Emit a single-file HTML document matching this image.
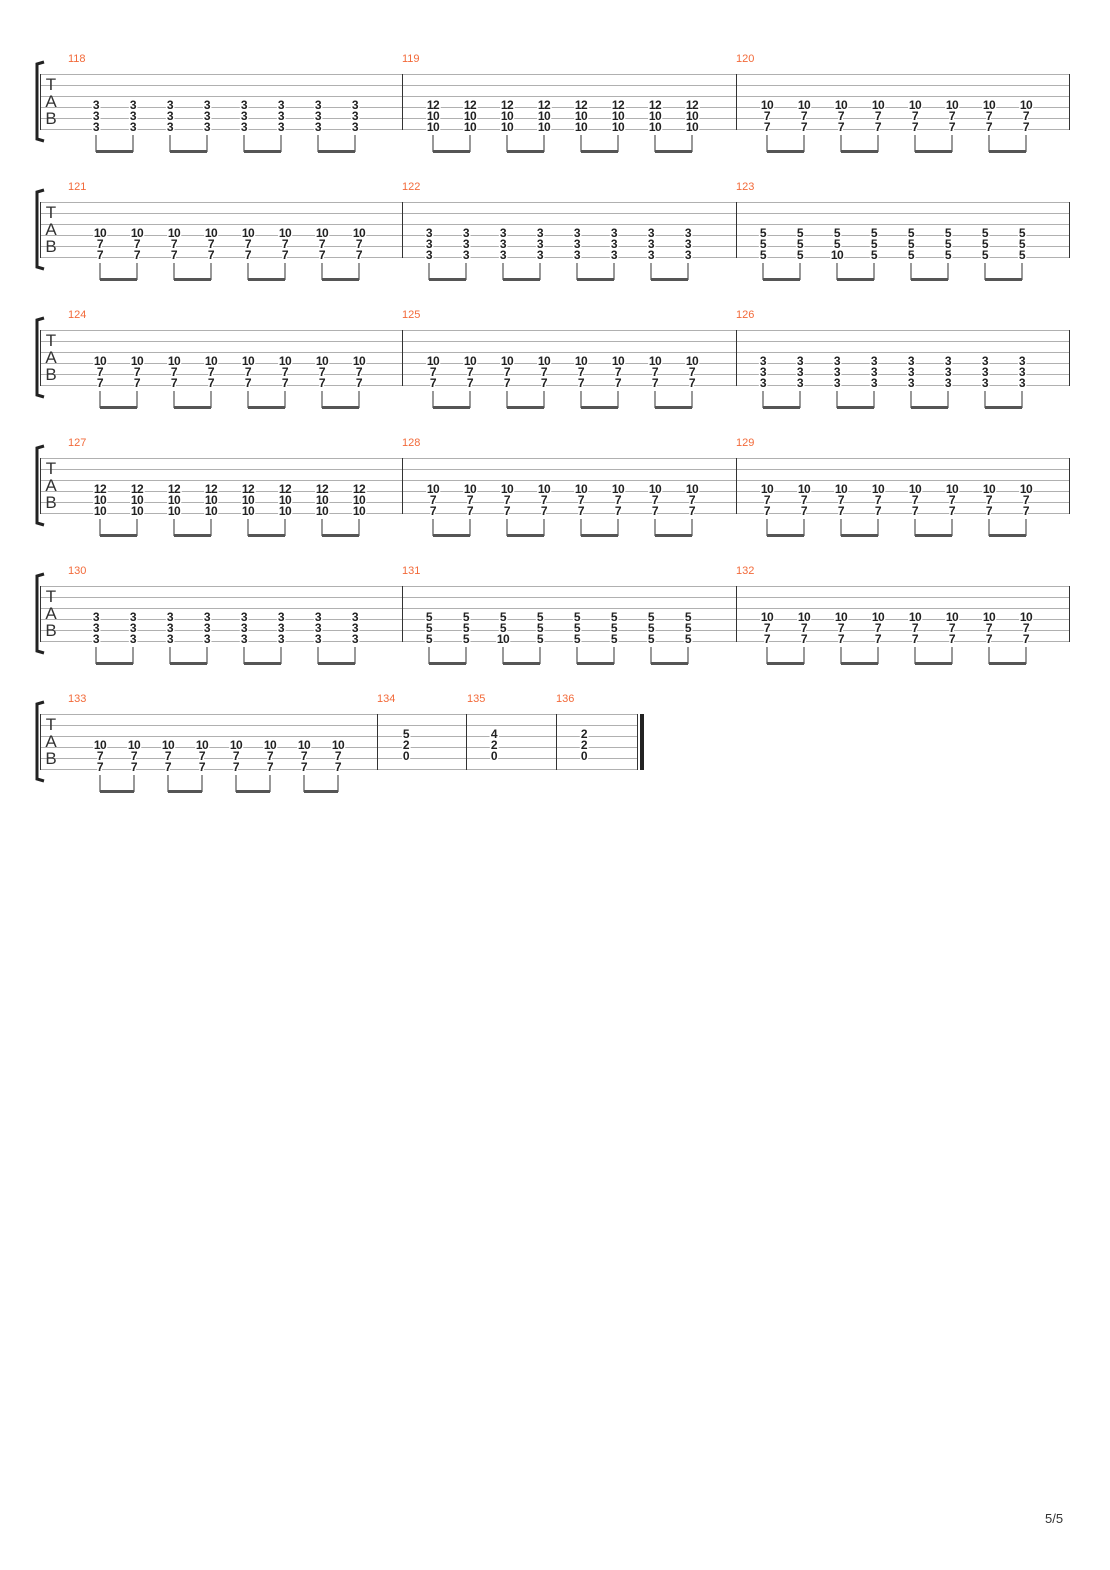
<!DOCTYPE html>
<html><head><meta charset="utf-8"><style>
html,body{margin:0;padding:0;background:#fff}
svg{display:block}
.n{font-family:"Liberation Sans",sans-serif;font-weight:bold;font-size:12px;text-anchor:middle;paint-order:stroke;stroke:#fff;stroke-width:3px;fill:#222;letter-spacing:-0.5px}
.m{font-family:"Liberation Sans",sans-serif;font-size:11px;fill:#f26a3a}
.tab{font-family:"Liberation Sans",sans-serif;font-size:17px;fill:#333;text-anchor:middle}
.sl{stroke:#b0b0b0;stroke-width:1}
.bl{stroke:#333;stroke-width:1}
.st{stroke:#555;stroke-width:1.2}
.bm{stroke:#555;stroke-width:3}
</style></head><body>
<svg width="1110" height="1570" xmlns="http://www.w3.org/2000/svg">
<defs>
<g id="staff">
<line class="sl" x1="40" y1="74.5" x2="1069" y2="74.5"/><line class="sl" x1="40" y1="85.5" x2="1069" y2="85.5"/><line class="sl" x1="40" y1="96.5" x2="1069" y2="96.5"/><line class="sl" x1="40" y1="107.5" x2="1069" y2="107.5"/><line class="sl" x1="40" y1="118.5" x2="1069" y2="118.5"/><line class="sl" x1="40" y1="129.5" x2="1069" y2="129.5"/>
<path d="M44 62 L37 64 L37 139 L44 141" fill="none" stroke="#222" stroke-width="3"/>
<line class="bl" x1="40.5" y1="74" x2="40.5" y2="130"/>
</g>
</defs>

<!-- System 1 -->
<g>
<use href="#staff"/>
<line class="bl" x1="402.5" y1="74" x2="402.5" y2="130"/><line class="bl" x1="736.5" y1="74" x2="736.5" y2="130"/><line class="bl" x1="1069.5" y1="74" x2="1069.5" y2="130"/>
<text class="tab" x="51" y="90">T</text><text class="tab" x="51" y="107">A</text><text class="tab" x="51" y="124">B</text>
<text class="m" x="68" y="62">118</text><text class="m" x="402" y="62">119</text><text class="m" x="736" y="62">120</text>
<g class="n">
<text x="96" y="109">3<tspan x="96" dy="11">3</tspan><tspan x="96" dy="11">3</tspan></text><text x="133" y="109">3<tspan x="133" dy="11">3</tspan><tspan x="133" dy="11">3</tspan></text><text x="170" y="109">3<tspan x="170" dy="11">3</tspan><tspan x="170" dy="11">3</tspan></text><text x="207" y="109">3<tspan x="207" dy="11">3</tspan><tspan x="207" dy="11">3</tspan></text><text x="244" y="109">3<tspan x="244" dy="11">3</tspan><tspan x="244" dy="11">3</tspan></text><text x="281" y="109">3<tspan x="281" dy="11">3</tspan><tspan x="281" dy="11">3</tspan></text><text x="318" y="109">3<tspan x="318" dy="11">3</tspan><tspan x="318" dy="11">3</tspan></text><text x="355" y="109">3<tspan x="355" dy="11">3</tspan><tspan x="355" dy="11">3</tspan></text>
<text x="433" y="109">12<tspan x="433" dy="11">10</tspan><tspan x="433" dy="11">10</tspan></text><text x="470" y="109">12<tspan x="470" dy="11">10</tspan><tspan x="470" dy="11">10</tspan></text><text x="507" y="109">12<tspan x="507" dy="11">10</tspan><tspan x="507" dy="11">10</tspan></text><text x="544" y="109">12<tspan x="544" dy="11">10</tspan><tspan x="544" dy="11">10</tspan></text><text x="581" y="109">12<tspan x="581" dy="11">10</tspan><tspan x="581" dy="11">10</tspan></text><text x="618" y="109">12<tspan x="618" dy="11">10</tspan><tspan x="618" dy="11">10</tspan></text><text x="655" y="109">12<tspan x="655" dy="11">10</tspan><tspan x="655" dy="11">10</tspan></text><text x="692" y="109">12<tspan x="692" dy="11">10</tspan><tspan x="692" dy="11">10</tspan></text>
<text x="767" y="109">10<tspan x="767" dy="11">7</tspan><tspan x="767" dy="11">7</tspan></text><text x="804" y="109">10<tspan x="804" dy="11">7</tspan><tspan x="804" dy="11">7</tspan></text><text x="841" y="109">10<tspan x="841" dy="11">7</tspan><tspan x="841" dy="11">7</tspan></text><text x="878" y="109">10<tspan x="878" dy="11">7</tspan><tspan x="878" dy="11">7</tspan></text><text x="915" y="109">10<tspan x="915" dy="11">7</tspan><tspan x="915" dy="11">7</tspan></text><text x="952" y="109">10<tspan x="952" dy="11">7</tspan><tspan x="952" dy="11">7</tspan></text><text x="989" y="109">10<tspan x="989" dy="11">7</tspan><tspan x="989" dy="11">7</tspan></text><text x="1026" y="109">10<tspan x="1026" dy="11">7</tspan><tspan x="1026" dy="11">7</tspan></text>
</g>
<path class="st" d="M96 135V152M133 135V152M170 135V152M207 135V152M244 135V152M281 135V152M318 135V152M355 135V152M433 135V152M470 135V152M507 135V152M544 135V152M581 135V152M618 135V152M655 135V152M692 135V152M767 135V152M804 135V152M841 135V152M878 135V152M915 135V152M952 135V152M989 135V152M1026 135V152"/>
<path class="bm" d="M96 151.5H133M170 151.5H207M244 151.5H281M318 151.5H355M433 151.5H470M507 151.5H544M581 151.5H618M655 151.5H692M767 151.5H804M841 151.5H878M915 151.5H952M989 151.5H1026"/>
</g>

<!-- System 2 -->
<g transform="translate(0,128)">
<use href="#staff"/>
<line class="bl" x1="402.5" y1="74" x2="402.5" y2="130"/><line class="bl" x1="736.5" y1="74" x2="736.5" y2="130"/><line class="bl" x1="1069.5" y1="74" x2="1069.5" y2="130"/>
<text class="tab" x="51" y="90">T</text><text class="tab" x="51" y="107">A</text><text class="tab" x="51" y="124">B</text>
<text class="m" x="68" y="62">121</text><text class="m" x="402" y="62">122</text><text class="m" x="736" y="62">123</text>
<g class="n">
<text x="100" y="109">10<tspan x="100" dy="11">7</tspan><tspan x="100" dy="11">7</tspan></text><text x="137" y="109">10<tspan x="137" dy="11">7</tspan><tspan x="137" dy="11">7</tspan></text><text x="174" y="109">10<tspan x="174" dy="11">7</tspan><tspan x="174" dy="11">7</tspan></text><text x="211" y="109">10<tspan x="211" dy="11">7</tspan><tspan x="211" dy="11">7</tspan></text><text x="248" y="109">10<tspan x="248" dy="11">7</tspan><tspan x="248" dy="11">7</tspan></text><text x="285" y="109">10<tspan x="285" dy="11">7</tspan><tspan x="285" dy="11">7</tspan></text><text x="322" y="109">10<tspan x="322" dy="11">7</tspan><tspan x="322" dy="11">7</tspan></text><text x="359" y="109">10<tspan x="359" dy="11">7</tspan><tspan x="359" dy="11">7</tspan></text>
<text x="429" y="109">3<tspan x="429" dy="11">3</tspan><tspan x="429" dy="11">3</tspan></text><text x="466" y="109">3<tspan x="466" dy="11">3</tspan><tspan x="466" dy="11">3</tspan></text><text x="503" y="109">3<tspan x="503" dy="11">3</tspan><tspan x="503" dy="11">3</tspan></text><text x="540" y="109">3<tspan x="540" dy="11">3</tspan><tspan x="540" dy="11">3</tspan></text><text x="577" y="109">3<tspan x="577" dy="11">3</tspan><tspan x="577" dy="11">3</tspan></text><text x="614" y="109">3<tspan x="614" dy="11">3</tspan><tspan x="614" dy="11">3</tspan></text><text x="651" y="109">3<tspan x="651" dy="11">3</tspan><tspan x="651" dy="11">3</tspan></text><text x="688" y="109">3<tspan x="688" dy="11">3</tspan><tspan x="688" dy="11">3</tspan></text>
<text x="763" y="109">5<tspan x="763" dy="11">5</tspan><tspan x="763" dy="11">5</tspan></text><text x="800" y="109">5<tspan x="800" dy="11">5</tspan><tspan x="800" dy="11">5</tspan></text><text x="837" y="109">5<tspan x="837" dy="11">5</tspan><tspan x="837" dy="11">10</tspan></text><text x="874" y="109">5<tspan x="874" dy="11">5</tspan><tspan x="874" dy="11">5</tspan></text><text x="911" y="109">5<tspan x="911" dy="11">5</tspan><tspan x="911" dy="11">5</tspan></text><text x="948" y="109">5<tspan x="948" dy="11">5</tspan><tspan x="948" dy="11">5</tspan></text><text x="985" y="109">5<tspan x="985" dy="11">5</tspan><tspan x="985" dy="11">5</tspan></text><text x="1022" y="109">5<tspan x="1022" dy="11">5</tspan><tspan x="1022" dy="11">5</tspan></text>
</g>
<path class="st" d="M100 135V152M137 135V152M174 135V152M211 135V152M248 135V152M285 135V152M322 135V152M359 135V152M429 135V152M466 135V152M503 135V152M540 135V152M577 135V152M614 135V152M651 135V152M688 135V152M763 135V152M800 135V152M837 135V152M874 135V152M911 135V152M948 135V152M985 135V152M1022 135V152"/>
<path class="bm" d="M100 151.5H137M174 151.5H211M248 151.5H285M322 151.5H359M429 151.5H466M503 151.5H540M577 151.5H614M651 151.5H688M763 151.5H800M837 151.5H874M911 151.5H948M985 151.5H1022"/>
</g>

<!-- System 3 -->
<g transform="translate(0,256)">
<use href="#staff"/>
<line class="bl" x1="402.5" y1="74" x2="402.5" y2="130"/><line class="bl" x1="736.5" y1="74" x2="736.5" y2="130"/><line class="bl" x1="1069.5" y1="74" x2="1069.5" y2="130"/>
<text class="tab" x="51" y="90">T</text><text class="tab" x="51" y="107">A</text><text class="tab" x="51" y="124">B</text>
<text class="m" x="68" y="62">124</text><text class="m" x="402" y="62">125</text><text class="m" x="736" y="62">126</text>
<g class="n">
<text x="100" y="109">10<tspan x="100" dy="11">7</tspan><tspan x="100" dy="11">7</tspan></text><text x="137" y="109">10<tspan x="137" dy="11">7</tspan><tspan x="137" dy="11">7</tspan></text><text x="174" y="109">10<tspan x="174" dy="11">7</tspan><tspan x="174" dy="11">7</tspan></text><text x="211" y="109">10<tspan x="211" dy="11">7</tspan><tspan x="211" dy="11">7</tspan></text><text x="248" y="109">10<tspan x="248" dy="11">7</tspan><tspan x="248" dy="11">7</tspan></text><text x="285" y="109">10<tspan x="285" dy="11">7</tspan><tspan x="285" dy="11">7</tspan></text><text x="322" y="109">10<tspan x="322" dy="11">7</tspan><tspan x="322" dy="11">7</tspan></text><text x="359" y="109">10<tspan x="359" dy="11">7</tspan><tspan x="359" dy="11">7</tspan></text>
<text x="433" y="109">10<tspan x="433" dy="11">7</tspan><tspan x="433" dy="11">7</tspan></text><text x="470" y="109">10<tspan x="470" dy="11">7</tspan><tspan x="470" dy="11">7</tspan></text><text x="507" y="109">10<tspan x="507" dy="11">7</tspan><tspan x="507" dy="11">7</tspan></text><text x="544" y="109">10<tspan x="544" dy="11">7</tspan><tspan x="544" dy="11">7</tspan></text><text x="581" y="109">10<tspan x="581" dy="11">7</tspan><tspan x="581" dy="11">7</tspan></text><text x="618" y="109">10<tspan x="618" dy="11">7</tspan><tspan x="618" dy="11">7</tspan></text><text x="655" y="109">10<tspan x="655" dy="11">7</tspan><tspan x="655" dy="11">7</tspan></text><text x="692" y="109">10<tspan x="692" dy="11">7</tspan><tspan x="692" dy="11">7</tspan></text>
<text x="763" y="109">3<tspan x="763" dy="11">3</tspan><tspan x="763" dy="11">3</tspan></text><text x="800" y="109">3<tspan x="800" dy="11">3</tspan><tspan x="800" dy="11">3</tspan></text><text x="837" y="109">3<tspan x="837" dy="11">3</tspan><tspan x="837" dy="11">3</tspan></text><text x="874" y="109">3<tspan x="874" dy="11">3</tspan><tspan x="874" dy="11">3</tspan></text><text x="911" y="109">3<tspan x="911" dy="11">3</tspan><tspan x="911" dy="11">3</tspan></text><text x="948" y="109">3<tspan x="948" dy="11">3</tspan><tspan x="948" dy="11">3</tspan></text><text x="985" y="109">3<tspan x="985" dy="11">3</tspan><tspan x="985" dy="11">3</tspan></text><text x="1022" y="109">3<tspan x="1022" dy="11">3</tspan><tspan x="1022" dy="11">3</tspan></text>
</g>
<path class="st" d="M100 135V152M137 135V152M174 135V152M211 135V152M248 135V152M285 135V152M322 135V152M359 135V152M433 135V152M470 135V152M507 135V152M544 135V152M581 135V152M618 135V152M655 135V152M692 135V152M763 135V152M800 135V152M837 135V152M874 135V152M911 135V152M948 135V152M985 135V152M1022 135V152"/>
<path class="bm" d="M100 151.5H137M174 151.5H211M248 151.5H285M322 151.5H359M433 151.5H470M507 151.5H544M581 151.5H618M655 151.5H692M763 151.5H800M837 151.5H874M911 151.5H948M985 151.5H1022"/>
</g>

<!-- System 4 -->
<g transform="translate(0,384)">
<use href="#staff"/>
<line class="bl" x1="402.5" y1="74" x2="402.5" y2="130"/><line class="bl" x1="736.5" y1="74" x2="736.5" y2="130"/><line class="bl" x1="1069.5" y1="74" x2="1069.5" y2="130"/>
<text class="tab" x="51" y="90">T</text><text class="tab" x="51" y="107">A</text><text class="tab" x="51" y="124">B</text>
<text class="m" x="68" y="62">127</text><text class="m" x="402" y="62">128</text><text class="m" x="736" y="62">129</text>
<g class="n">
<text x="100" y="109">12<tspan x="100" dy="11">10</tspan><tspan x="100" dy="11">10</tspan></text><text x="137" y="109">12<tspan x="137" dy="11">10</tspan><tspan x="137" dy="11">10</tspan></text><text x="174" y="109">12<tspan x="174" dy="11">10</tspan><tspan x="174" dy="11">10</tspan></text><text x="211" y="109">12<tspan x="211" dy="11">10</tspan><tspan x="211" dy="11">10</tspan></text><text x="248" y="109">12<tspan x="248" dy="11">10</tspan><tspan x="248" dy="11">10</tspan></text><text x="285" y="109">12<tspan x="285" dy="11">10</tspan><tspan x="285" dy="11">10</tspan></text><text x="322" y="109">12<tspan x="322" dy="11">10</tspan><tspan x="322" dy="11">10</tspan></text><text x="359" y="109">12<tspan x="359" dy="11">10</tspan><tspan x="359" dy="11">10</tspan></text>
<text x="433" y="109">10<tspan x="433" dy="11">7</tspan><tspan x="433" dy="11">7</tspan></text><text x="470" y="109">10<tspan x="470" dy="11">7</tspan><tspan x="470" dy="11">7</tspan></text><text x="507" y="109">10<tspan x="507" dy="11">7</tspan><tspan x="507" dy="11">7</tspan></text><text x="544" y="109">10<tspan x="544" dy="11">7</tspan><tspan x="544" dy="11">7</tspan></text><text x="581" y="109">10<tspan x="581" dy="11">7</tspan><tspan x="581" dy="11">7</tspan></text><text x="618" y="109">10<tspan x="618" dy="11">7</tspan><tspan x="618" dy="11">7</tspan></text><text x="655" y="109">10<tspan x="655" dy="11">7</tspan><tspan x="655" dy="11">7</tspan></text><text x="692" y="109">10<tspan x="692" dy="11">7</tspan><tspan x="692" dy="11">7</tspan></text>
<text x="767" y="109">10<tspan x="767" dy="11">7</tspan><tspan x="767" dy="11">7</tspan></text><text x="804" y="109">10<tspan x="804" dy="11">7</tspan><tspan x="804" dy="11">7</tspan></text><text x="841" y="109">10<tspan x="841" dy="11">7</tspan><tspan x="841" dy="11">7</tspan></text><text x="878" y="109">10<tspan x="878" dy="11">7</tspan><tspan x="878" dy="11">7</tspan></text><text x="915" y="109">10<tspan x="915" dy="11">7</tspan><tspan x="915" dy="11">7</tspan></text><text x="952" y="109">10<tspan x="952" dy="11">7</tspan><tspan x="952" dy="11">7</tspan></text><text x="989" y="109">10<tspan x="989" dy="11">7</tspan><tspan x="989" dy="11">7</tspan></text><text x="1026" y="109">10<tspan x="1026" dy="11">7</tspan><tspan x="1026" dy="11">7</tspan></text>
</g>
<path class="st" d="M100 135V152M137 135V152M174 135V152M211 135V152M248 135V152M285 135V152M322 135V152M359 135V152M433 135V152M470 135V152M507 135V152M544 135V152M581 135V152M618 135V152M655 135V152M692 135V152M767 135V152M804 135V152M841 135V152M878 135V152M915 135V152M952 135V152M989 135V152M1026 135V152"/>
<path class="bm" d="M100 151.5H137M174 151.5H211M248 151.5H285M322 151.5H359M433 151.5H470M507 151.5H544M581 151.5H618M655 151.5H692M767 151.5H804M841 151.5H878M915 151.5H952M989 151.5H1026"/>
</g>

<!-- System 5 -->
<g transform="translate(0,512)">
<use href="#staff"/>
<line class="bl" x1="402.5" y1="74" x2="402.5" y2="130"/><line class="bl" x1="736.5" y1="74" x2="736.5" y2="130"/><line class="bl" x1="1069.5" y1="74" x2="1069.5" y2="130"/>
<text class="tab" x="51" y="90">T</text><text class="tab" x="51" y="107">A</text><text class="tab" x="51" y="124">B</text>
<text class="m" x="68" y="62">130</text><text class="m" x="402" y="62">131</text><text class="m" x="736" y="62">132</text>
<g class="n">
<text x="96" y="109">3<tspan x="96" dy="11">3</tspan><tspan x="96" dy="11">3</tspan></text><text x="133" y="109">3<tspan x="133" dy="11">3</tspan><tspan x="133" dy="11">3</tspan></text><text x="170" y="109">3<tspan x="170" dy="11">3</tspan><tspan x="170" dy="11">3</tspan></text><text x="207" y="109">3<tspan x="207" dy="11">3</tspan><tspan x="207" dy="11">3</tspan></text><text x="244" y="109">3<tspan x="244" dy="11">3</tspan><tspan x="244" dy="11">3</tspan></text><text x="281" y="109">3<tspan x="281" dy="11">3</tspan><tspan x="281" dy="11">3</tspan></text><text x="318" y="109">3<tspan x="318" dy="11">3</tspan><tspan x="318" dy="11">3</tspan></text><text x="355" y="109">3<tspan x="355" dy="11">3</tspan><tspan x="355" dy="11">3</tspan></text>
<text x="429" y="109">5<tspan x="429" dy="11">5</tspan><tspan x="429" dy="11">5</tspan></text><text x="466" y="109">5<tspan x="466" dy="11">5</tspan><tspan x="466" dy="11">5</tspan></text><text x="503" y="109">5<tspan x="503" dy="11">5</tspan><tspan x="503" dy="11">10</tspan></text><text x="540" y="109">5<tspan x="540" dy="11">5</tspan><tspan x="540" dy="11">5</tspan></text><text x="577" y="109">5<tspan x="577" dy="11">5</tspan><tspan x="577" dy="11">5</tspan></text><text x="614" y="109">5<tspan x="614" dy="11">5</tspan><tspan x="614" dy="11">5</tspan></text><text x="651" y="109">5<tspan x="651" dy="11">5</tspan><tspan x="651" dy="11">5</tspan></text><text x="688" y="109">5<tspan x="688" dy="11">5</tspan><tspan x="688" dy="11">5</tspan></text>
<text x="767" y="109">10<tspan x="767" dy="11">7</tspan><tspan x="767" dy="11">7</tspan></text><text x="804" y="109">10<tspan x="804" dy="11">7</tspan><tspan x="804" dy="11">7</tspan></text><text x="841" y="109">10<tspan x="841" dy="11">7</tspan><tspan x="841" dy="11">7</tspan></text><text x="878" y="109">10<tspan x="878" dy="11">7</tspan><tspan x="878" dy="11">7</tspan></text><text x="915" y="109">10<tspan x="915" dy="11">7</tspan><tspan x="915" dy="11">7</tspan></text><text x="952" y="109">10<tspan x="952" dy="11">7</tspan><tspan x="952" dy="11">7</tspan></text><text x="989" y="109">10<tspan x="989" dy="11">7</tspan><tspan x="989" dy="11">7</tspan></text><text x="1026" y="109">10<tspan x="1026" dy="11">7</tspan><tspan x="1026" dy="11">7</tspan></text>
</g>
<path class="st" d="M96 135V152M133 135V152M170 135V152M207 135V152M244 135V152M281 135V152M318 135V152M355 135V152M429 135V152M466 135V152M503 135V152M540 135V152M577 135V152M614 135V152M651 135V152M688 135V152M767 135V152M804 135V152M841 135V152M878 135V152M915 135V152M952 135V152M989 135V152M1026 135V152"/>
<path class="bm" d="M96 151.5H133M170 151.5H207M244 151.5H281M318 151.5H355M429 151.5H466M503 151.5H540M577 151.5H614M651 151.5H688M767 151.5H804M841 151.5H878M915 151.5H952M989 151.5H1026"/>
</g>

<!-- System 6 -->
<g transform="translate(0,640)">
<path d="M40 74.5H637M40 85.5H637M40 96.5H637M40 107.5H637M40 118.5H637M40 129.5H637" class="sl"/>
<path d="M44 62 L37 64 L37 139 L44 141" fill="none" stroke="#222" stroke-width="3"/>
<line class="bl" x1="40.5" y1="74" x2="40.5" y2="130"/>
<line class="bl" x1="377.5" y1="74" x2="377.5" y2="130"/><line class="bl" x1="466.5" y1="74" x2="466.5" y2="130"/><line class="bl" x1="556.5" y1="74" x2="556.5" y2="130"/><line class="bl" x1="637.5" y1="74" x2="637.5" y2="130"/>
<rect x="640" y="74" width="4" height="56" fill="#222"/>
<text class="tab" x="51" y="90">T</text><text class="tab" x="51" y="107">A</text><text class="tab" x="51" y="124">B</text>
<text class="m" x="68" y="62">133</text><text class="m" x="377" y="62">134</text><text class="m" x="467" y="62">135</text><text class="m" x="556" y="62">136</text>
<g class="n">
<text x="100" y="109">10<tspan x="100" dy="11">7</tspan><tspan x="100" dy="11">7</tspan></text><text x="134" y="109">10<tspan x="134" dy="11">7</tspan><tspan x="134" dy="11">7</tspan></text><text x="168" y="109">10<tspan x="168" dy="11">7</tspan><tspan x="168" dy="11">7</tspan></text><text x="202" y="109">10<tspan x="202" dy="11">7</tspan><tspan x="202" dy="11">7</tspan></text><text x="236" y="109">10<tspan x="236" dy="11">7</tspan><tspan x="236" dy="11">7</tspan></text><text x="270" y="109">10<tspan x="270" dy="11">7</tspan><tspan x="270" dy="11">7</tspan></text><text x="304" y="109">10<tspan x="304" dy="11">7</tspan><tspan x="304" dy="11">7</tspan></text><text x="338" y="109">10<tspan x="338" dy="11">7</tspan><tspan x="338" dy="11">7</tspan></text>
<text x="406" y="98">5<tspan x="406" dy="11">2</tspan><tspan x="406" dy="11">0</tspan></text>
<text x="494" y="98">4<tspan x="494" dy="11">2</tspan><tspan x="494" dy="11">0</tspan></text>
<text x="584" y="98">2<tspan x="584" dy="11">2</tspan><tspan x="584" dy="11">0</tspan></text>
</g>
<path class="st" d="M100 135V152M134 135V152M168 135V152M202 135V152M236 135V152M270 135V152M304 135V152M338 135V152"/>
<path class="bm" d="M100 151.5H134M168 151.5H202M236 151.5H270M304 151.5H338"/>
</g>

<text x="1045" y="1523" style="font-family:'Liberation Sans',sans-serif;font-size:13px;fill:#333">5/5</text>
</svg>
</body></html>
